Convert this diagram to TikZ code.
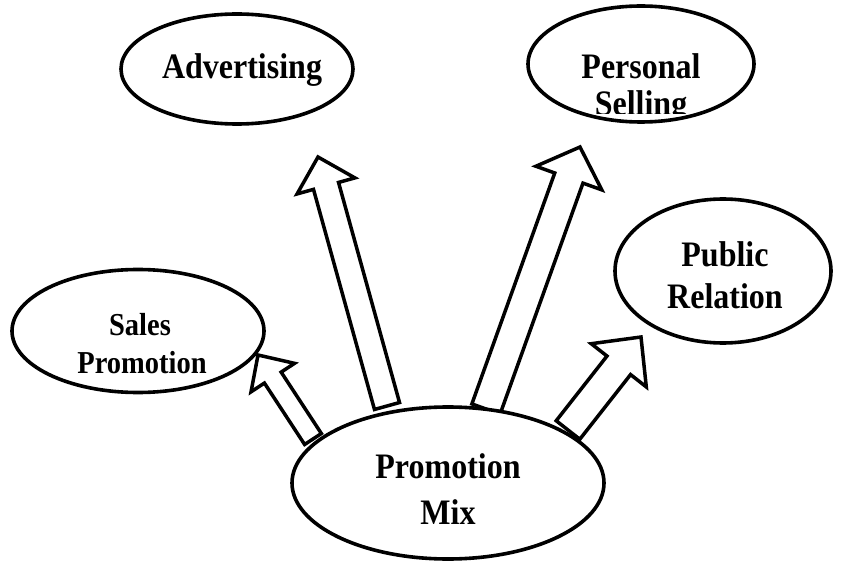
\documentclass[tikz,border=0pt]{standalone}
\usepackage{fontspec}
\setmainfont{Liberation Serif}
\usetikzlibrary{shapes.geometric,calc}

% hollow block arrow: #1 base, #2 tip, #3 shaft half-width, #4 head half-width, #5 head length
\newcommand{\blockarrow}[5]{%
  \coordinate (hb) at ($(#2)!#5!(#1)$);
  \draw[blockarr]
    ($(#1)!#3!90:(#2)$) -- ($(hb)!#3!90:(#2)$) -- ($(hb)!#4!90:(#2)$) -- (#2)
    -- ($(hb)!#4!-90:(#2)$) -- ($(hb)!#3!-90:(#2)$) -- ($(#1)!#3!-90:(#2)$) -- cycle;
}
% slightly tall bold lettering
\newcommand{\tall}[1]{\scalebox{1}[1.12]{#1}}

\begin{document}
\begin{tikzpicture}[x=1pt,y=-1pt,
  blockarr/.style={draw=black,fill=white,line width=3.5pt,line join=miter},
  bubble/.style={ellipse,draw=black,fill=white,line width=3.6pt,inner sep=0pt},
  lbl/.style={anchor=base,inner sep=0pt,font=\fontsize{32}{38}\selectfont\bfseries},
  lblsmall/.style={anchor=base,inner sep=0pt,font=\fontsize{28.5}{35}\selectfont\bfseries}]
\useasboundingbox (0,0) rectangle (849,564);

% arrow end points
\coordinate (a1b) at (313,439); \coordinate (a1t) at (258,355);
\coordinate (a2b) at (387,406); \coordinate (a2t) at (318,157);
\coordinate (a3b) at (486,409); \coordinate (a3t) at (580,147);
\coordinate (a4b) at (568,430); \coordinate (a4t) at (641,337);

% arrows from the promotion mix to its elements
\blockarrow{a1b}{a1t}{10pt}{26pt}{27pt}
\blockarrow{a2b}{a2t}{13pt}{30pt}{30pt}
\blockarrow{a3b}{a3t}{15pt}{35pt}{33pt}
\blockarrow{a4b}{a4t}{15pt}{35pt}{36pt}

% elements
\node[bubble,minimum width=226pt,minimum height=116pt] (pers) at (641,64) {};
\node[bubble,minimum width=232pt,minimum height=110pt] (adv) at (237,69) {};
\node[bubble,minimum width=216pt,minimum height=144pt] (pub) at (723,271) {};
\node[bubble,minimum width=252pt,minimum height=123pt] (sales) at (138,331) {};
\node[bubble,minimum width=312pt,minimum height=152pt] (mix) at (448,483) {};

% labels
\node[lbl] (advL) at (242,79) {\tall{Advertising}};
\begin{scope}
  \clip (520,0) rectangle (760,114);
  \node[lbl] (persL1) at (641,79) {\tall{Personal}};
  \node[lbl] (persL2) at (641,116) {\tall{Selling}};
\end{scope}
\node[lbl] (pubL1) at (725,266) {\tall{Public}};
\node[lbl] (pubL2) at (725,308) {\tall{Relation}};
\node[lblsmall] (salesL1) at (140,335) {\tall{Sales}};
\node[lblsmall] (salesL2) at (142,373) {\tall{Promotion}};
\node[lbl] (mixL1) at (448,478) {\tall{Promotion}};
\node[lbl] (mixL2) at (448,524) {\tall{Mix}};
\end{tikzpicture}
\end{document}
